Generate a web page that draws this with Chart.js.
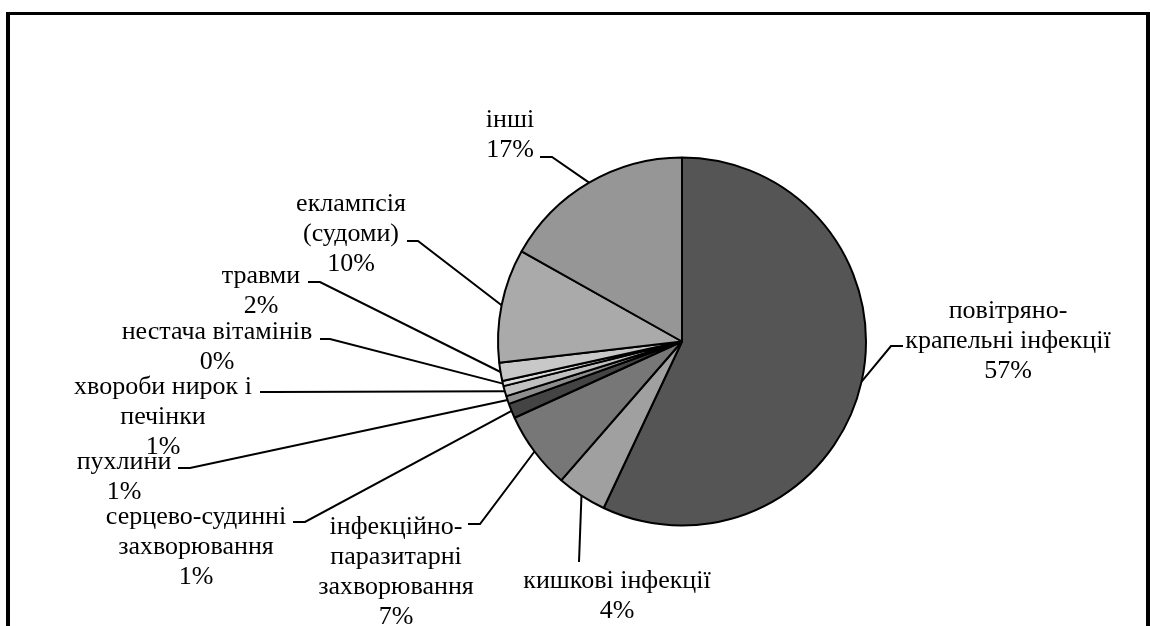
<!DOCTYPE html>
<html>
<head>
<meta charset="utf-8">
<script src="https://cdn.jsdelivr.net/npm/chart.js@4.4.0/dist/chart.umd.min.js"></script>
<style>
  html, body { margin: 0; padding: 0; background: #fff; width: 1150px; height: 626px; overflow: hidden; }
  #frame { position: absolute; left: 6px; top: 12px; width: 1136px; height: 700px;
           border-left: 4px solid #000; border-top: 3px solid #000; border-right: 4px solid #000; }
  canvas { position: absolute; left: 0; top: 0; }
</style>
</head>
<body>
<div id="frame"></div>
<canvas id="c" width="1150" height="626"></canvas>
<script>
// ---- data ----
const categories = [
  ["повітряно-", "крапельні інфекції"],
  ["кишкові інфекції"],
  ["інфекційно-", "паразитарні", "захворювання"],
  ["серцево-судинні", "захворювання"],
  ["пухлини"],
  ["хвороби нирок і", "печінки"],
  ["нестача вітамінів"],
  ["травми"],
  ["еклампсія", "(судоми)"],
  ["інші"]
];
const values = [57, 4.4, 6.8, 1.3, 0.7, 0.9, 0.45, 1.6, 10, 16.85];

// ---- styles ----
const colors = ["#555555", "#a0a0a0", "#777777", "#444444", "#8e8e8e",
                "#c0c0c0", "#dedede", "#c8c8c8", "#aaaaaa", "#969696"];

// ---- label layout: centre x, first baseline, leader bend point, tick end ----
const labelLayout = [
  { cx: 1008, y0: 318, bend: [891, 346], tick: [903, 346] },
  { cx: 617,  y0: 588, bend: [579, 562], tick: null },
  { cx: 396,  y0: 534, bend: [480, 524], tick: [468, 524] },
  { cx: 196,  y0: 524, bend: [305, 522], tick: [293, 522] },
  { cx: 124,  y0: 469, bend: [190, 468], tick: [178, 468] },
  { cx: 163,  y0: 394, bend: [272, 392], tick: [260, 392] },
  { cx: 217,  y0: 339, bend: [330, 339], tick: [320, 339] },
  { cx: 261,  y0: 283, bend: [320, 282], tick: [308, 282] },
  { cx: 351,  y0: 211, bend: [418, 241], tick: [407, 241] },
  { cx: 510,  y0: 127, bend: [552, 157], tick: [540, 157] }
];
const lineHeight = 30;
const labelFont = '26px "Liberation Serif", "Times New Roman", serif';

const total = values.reduce((a, b) => a + b, 0);

const leaderLabels = {
  id: 'leaderLabels',
  afterDatasetsDraw(chart) {
    const ctx = chart.ctx;
    const meta = chart.getDatasetMeta(0);
    ctx.save();
    ctx.strokeStyle = '#000';
    ctx.lineWidth = 2;
    ctx.fillStyle = '#000';
    ctx.font = labelFont;
    ctx.textAlign = 'center';
    ctx.textBaseline = 'alphabetic';
    meta.data.forEach((arc, i) => {
      const p = arc.getProps(['x', 'y', 'startAngle', 'endAngle', 'outerRadius'], true);
      const mid = (p.startAngle + p.endAngle) / 2;
      const ex = p.x + Math.cos(mid) * p.outerRadius;
      const ey = p.y + Math.sin(mid) * p.outerRadius;
      const L = labelLayout[i];
      ctx.beginPath();
      ctx.moveTo(ex, ey);
      ctx.lineTo(L.bend[0], L.bend[1]);
      if (L.tick) ctx.lineTo(L.tick[0], L.tick[1]);
      ctx.stroke();
      const pct = Math.round(values[i] / total * 100) + '%';
      const lines = categories[i].concat([pct]);
      lines.forEach((t, k) => ctx.fillText(t, L.cx, L.y0 + k * lineHeight));
    });
    ctx.restore();
  }
};

new Chart(document.getElementById('c'), {
  type: 'pie',
  data: {
    labels: categories.map(c => c.join(' ')),
    datasets: [{
      data: values,
      backgroundColor: colors,
      borderColor: '#000',
      borderWidth: 2
    }]
  },
  options: {
    responsive: false,
    animation: false,
    devicePixelRatio: 1,
    layout: { padding: { left: 497, right: 283, top: 156.5, bottom: 99.5 } },
    plugins: { legend: { display: false }, tooltip: { enabled: false } }
  },
  plugins: [leaderLabels]
});
</script>
</body>
</html>
